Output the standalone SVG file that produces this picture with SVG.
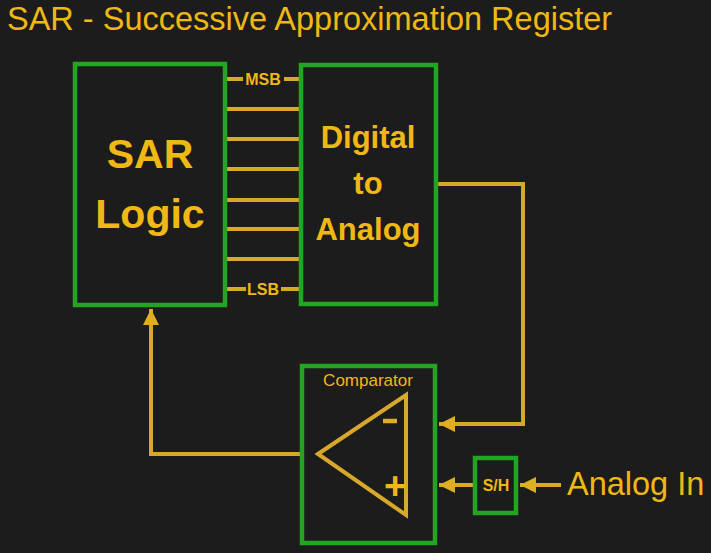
<svg xmlns="http://www.w3.org/2000/svg" width="711" height="553" viewBox="0 0 711 553">
<defs>
<style>
.box{fill:none;stroke:#22a522;stroke-width:4.5}
.ln{fill:none;stroke:#d8a82a;stroke-width:4}
.t{fill:#f0b814;font-family:"Liberation Sans",Arial,sans-serif}
.b{font-weight:bold}
</style>
<marker id="ah" viewBox="0 0 10 10" refX="10" refY="5" markerWidth="4.4" markerHeight="4" markerUnits="strokeWidth" orient="auto">
<path d="M0,0 L10,5 L0,10 z" fill="#e0ae22"/>
</marker>
</defs>
<rect width="711" height="553" fill="#1c1c1c"/>
<text class="t" x="7" y="30" font-size="32.5">SAR - Successive Approximation Register</text>

<g id="connectors">
<g class="ln">
<line x1="227" y1="79" x2="243" y2="79"/>
<line x1="284" y1="79" x2="299" y2="79"/>
<line x1="227" y1="109" x2="299" y2="109"/>
<line x1="227" y1="139" x2="299" y2="139"/>
<line x1="227" y1="169" x2="299" y2="169"/>
<line x1="227" y1="200" x2="299" y2="200"/>
<line x1="227" y1="229" x2="299" y2="229"/>
<line x1="227" y1="259" x2="299" y2="259"/>
<line x1="227" y1="289" x2="246" y2="289"/>
<line x1="281" y1="289" x2="299" y2="289"/>
<polyline points="438,184 523,184 523,424 439,424" marker-end="url(#ah)"/>
<polyline points="300,454 151,454 151,309" marker-end="url(#ah)"/>
<line x1="473" y1="485" x2="439" y2="485" marker-end="url(#ah)"/>
<line x1="561" y1="485" x2="520" y2="485" marker-end="url(#ah)"/>
</g>
<text class="t b" x="263" y="85" font-size="16" text-anchor="middle">MSB</text>
<text class="t b" x="263" y="295" font-size="16" text-anchor="middle">LSB</text>
</g>

<g id="sar-logic">
<rect class="box" x="75" y="64" width="150" height="241"/>
<text class="t b" x="150" y="168" font-size="41" text-anchor="middle">SAR</text>
<text class="t b" x="150" y="228" font-size="41" text-anchor="middle">Logic</text>
</g>

<g id="dac">
<rect class="box" x="301" y="65" width="135" height="239"/>
<text class="t b" x="368" y="148" font-size="31" text-anchor="middle">Digital</text>
<text class="t b" x="368" y="194" font-size="31" text-anchor="middle">to</text>
<text class="t b" x="368" y="240" font-size="31" text-anchor="middle">Analog</text>
</g>

<g id="comparator">
<rect class="box" x="302" y="366" width="133" height="177"/>
<text class="t" x="368" y="386" font-size="17" text-anchor="middle">Comparator</text>
<polygon points="318,454 406,395 406,515" fill="none" stroke="#d8a82a" stroke-width="4" stroke-linejoin="miter"/>
<line x1="383" y1="421" x2="397" y2="421" stroke="#e0ae22" stroke-width="4.5"/>
<text class="t b" x="395" y="499" font-size="38" text-anchor="middle">+</text>
</g>

<g id="sample-hold">
<rect class="box" x="475" y="458" width="41" height="55"/>
<text class="t b" x="496" y="491" font-size="16" text-anchor="middle">S/H</text>
</g>

<g id="analog-in">
<text class="t" x="567" y="495" font-size="32.5">Analog In</text>
</g>
</svg>
